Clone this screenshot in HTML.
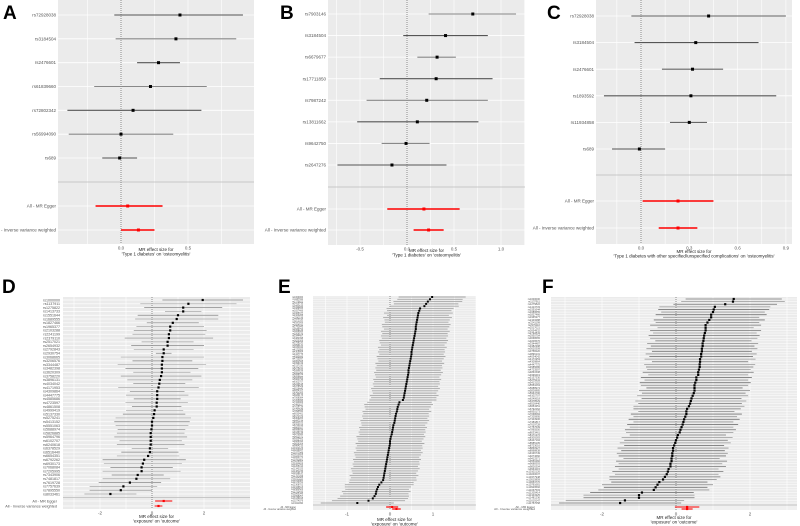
<!DOCTYPE html>
<html><head><meta charset="utf-8">
<style>
html,body{margin:0;padding:0;background:#fff;}
svg{display:block;font-family:"Liberation Sans",Arial,sans-serif;}
</style></head>
<body>
<svg id="fig" width="800" height="526" viewBox="0 0 800 526" xmlns="http://www.w3.org/2000/svg">
<text x="3" y="19" font-size="19" font-weight="bold">A</text>
<text x="280" y="19" font-size="19" font-weight="bold">B</text>
<text x="547" y="19" font-size="19" font-weight="bold">C</text>
<text x="2" y="293" font-size="19" font-weight="bold">D</text>
<text x="278" y="293" font-size="19" font-weight="bold">E</text>
<text x="542" y="293" font-size="19" font-weight="bold">F</text>
</svg>
<script>
// ---- Panel A data ----
const namesA = ["rs72928038","rs3184504","rs2476601","rs61839660","rs72802342","rs56994090","rs689"];
const estA = [0.44,0.41,0.28,0.22,0.09,0.0,-0.01];
const loA  = [-0.05,-0.04,0.12,-0.20,-0.40,-0.39,-0.14];
const hiA  = [0.91,0.86,0.44,0.64,0.60,0.39,0.12];
const sumEstA = [0.05,0.13];
const sumLoA = [-0.19,0.0];
const sumHiA = [0.31,0.25];
const ticksA = [0,0.5];
const tickLabA = ["0.0","0.5"];
// ---- Panel B data ----
const namesB = ["rs7903146","rs3184504","rs6679677","rs17711850","rs7987242","rs13811662","rs9642750","rs2647276"];
const estB = [0.70,0.41,0.32,0.31,0.21,0.11,-0.01,-0.16];
const loB  = [0.23,-0.04,0.11,-0.29,-0.43,-0.53,-0.27,-0.74];
const hiB  = [1.16,0.86,0.52,0.91,0.86,0.76,0.24,0.42];
const sumEstB = [0.18,0.23];
const sumLoB = [-0.21,0.07];
const sumHiB = [0.56,0.39];
const ticksB = [-0.5,0,0.5,1.0];
const tickLabB = ["-0.5","0.0","0.5","1.0"];
// ---- Panel C data ----
const namesC = ["rs72928038","rs3184504","rs2476601","rs1893592","rs11934858","rs689"];
const estC = [0.42,0.34,0.32,0.31,0.30,-0.01];
const loC  = [-0.06,-0.04,0.13,-0.23,0.18,-0.18];
const hiC  = [0.90,0.73,0.51,0.84,0.41,0.15];
const sumEstC = [0.23,0.23];
const sumLoC = [0.01,0.11];
const sumHiC = [0.45,0.35];
const ticksC = [0,0.3,0.6,0.9];
const tickLabC = ["0.0","0.3","0.6","0.9"];
// ---- Panel D data ----
const estD = [1.95,1.4,1.2,1.2,1.0,0.95,0.8,0.7,0.7,0.65,0.65,0.6,0.6,0.45,0.45,0.4,0.4,0.38,0.38,0.38,0.35,0.3,0.28,0.25,0.2,0.2,0.2,0.18,0.18,0.1,0.08,0.05,0.0,0.0,-0.02,-0.05,-0.05,-0.05,-0.05,-0.08,-0.08,-0.15,-0.3,-0.35,-0.4,-0.4,-0.55,-0.6,-0.85,-1.1,-1.2,-1.6];
const hwD  = [1.55,1.85,1.5,0.7,1.55,1.6,1.0,1.3,1.4,1.4,1.7,1.0,1.4,1.15,0.3,1.6,1.15,1.7,1.4,1.1,1.55,1.25,1.0,1.55,1.05,1.2,0.9,1.2,0.95,1.1,1.2,1.45,1.45,1.4,1.3,1.3,1.4,1.2,1.3,0.7,1.1,1.2,1.6,1.5,1.2,1.5,1.0,1.3,1.2,1.3,1.2,1.0];
const sumEstD = [0.45,0.25];
const sumHwD = [0.33,0.15];
const ticksD = [-2,0,2];
const tickLabD = ["-2","0","2"];
// ---- Panel E data ----
const estE = [0.98,0.93,0.88,0.84,0.8,0.7,0.68,0.66,0.65,0.64,0.63,0.62,0.61,0.6,0.6,0.59,0.58,0.57,0.56,0.55,0.54,0.53,0.52,0.51,0.5,0.5,0.49,0.48,0.47,0.46,0.45,0.44,0.43,0.43,0.42,0.41,0.4,0.39,0.38,0.37,0.36,0.35,0.34,0.33,0.32,0.3,0.22,0.2,0.18,0.17,0.16,0.14,0.13,0.12,0.11,0.1,0.08,0.07,0.06,0.05,0.04,0.02,0.01,0.0,0.0,-0.01,-0.02,-0.03,-0.04,-0.05,-0.06,-0.07,-0.08,-0.09,-0.1,-0.11,-0.12,-0.13,-0.14,-0.15,-0.16,-0.2,-0.25,-0.28,-0.3,-0.32,-0.33,-0.36,-0.4,-0.5,-0.76];
const hwE  = [0.78,0.76,0.8,0.75,0.8,0.78,0.75,0.8,0.72,0.8,0.76,0.74,0.8,0.78,0.74,0.8,0.76,0.78,0.75,0.8,0.78,0.74,0.8,0.76,0.78,0.75,0.8,0.77,0.74,0.8,0.76,0.78,0.75,0.8,0.77,0.74,0.79,0.76,0.78,0.75,0.8,0.77,0.74,0.8,0.76,0.78,0.75,0.8,0.77,0.74,0.8,0.76,0.78,0.75,0.8,0.77,0.74,0.79,0.76,0.78,0.75,0.8,0.77,0.74,0.8,0.76,0.78,0.75,0.8,0.77,0.74,0.79,0.76,0.78,0.75,0.8,0.77,0.74,0.8,0.76,0.78,0.75,0.8,0.77,0.74,0.8,0.76,0.8,0.82,0.85,0.85];
const sumEstE = [0.05,0.15];
const sumHwE = [0.14,0.1];
const ticksE = [-1,0,1];
const tickLabE = ["-1","0","1"];
// ---- Panel F data ----
const estF = [1.56,1.54,1.33,1.05,1.02,1.0,0.95,0.95,0.9,0.85,0.8,0.8,0.8,0.78,0.76,0.75,0.74,0.72,0.72,0.7,0.7,0.68,0.68,0.65,0.65,0.64,0.64,0.62,0.6,0.6,0.55,0.55,0.52,0.5,0.5,0.5,0.48,0.45,0.42,0.4,0.38,0.35,0.3,0.28,0.28,0.25,0.22,0.2,0.18,0.15,0.12,0.1,0.05,0.03,0.0,-0.02,-0.05,-0.08,-0.08,-0.1,-0.1,-0.12,-0.12,-0.15,-0.15,-0.2,-0.22,-0.25,-0.3,-0.35,-0.45,-0.5,-0.55,-0.6,-0.92,-1.0,-1.0,-1.38,-1.51];
const hwF  = [1.3,1.4,1.4,1.5,1.5,1.4,1.5,1.3,1.5,1.4,1.5,1.3,1.5,1.4,1.5,1.45,1.3,1.5,1.4,1.5,1.35,1.5,1.4,1.5,1.3,1.5,1.45,1.4,1.5,1.35,1.5,1.4,1.5,1.45,1.3,1.5,1.4,1.5,1.35,1.5,1.4,1.5,1.45,1.3,1.5,1.4,1.5,1.35,1.5,1.4,1.5,1.45,1.3,1.5,1.4,1.5,1.35,1.5,1.4,1.5,1.45,1.3,1.5,1.4,1.5,1.35,1.5,1.4,1.5,1.45,1.3,1.5,1.4,1.5,1.4,1.5,1.5,1.6,1.65];
const sumEstF = [0.3,0.3];
const sumHwF = [0.33,0.15];
const ticksF = [-2,0,2];
const tickLabF = ["-2","0","2"];

const NS = "http://www.w3.org/2000/svg";
const svg = document.getElementById("fig");
function mk(tag, attrs, parent){
  const e = document.createElementNS(NS, tag);
  for (const k in attrs) e.setAttribute(k, attrs[k]);
  (parent||svg).appendChild(e);
  return e;
}
function panel(p){
  const g = mk("g", {});
  
  
  const xs = v => p.zeroX + v * p.unit;
  const bg = mk("rect", {x:p.x0, y:p.y0, width:p.x1-p.x0, height:p.y1-p.y0, fill:"#ebebeb"}, g);
  
  
  const step = p.ticks.length>1 ? p.ticks[1]-p.ticks[0] : 1;
  for (let t = p.ticks[0] - step*3; t <= p.ticks[p.ticks.length-1] + step*3; t += step/2){
    const X = xs(t);
    if (X < p.x0 || X > p.x1) continue;
    const gl = mk("line", {x1:X, x2:X, y1:p.y0, y2:p.y1, stroke:"#fff", "stroke-width":0.6}, g);
    
    
  }
  const n = p.est.length;
  const rowY = i => n>1 ? p.rTop + i*(p.rBot-p.rTop)/(n-1) : p.rTop;
  const allY = [];
  for (let i=0;i<n;i++) allY.push(rowY(i));
  p.sumY.forEach(y=>allY.push(y));
  allY.forEach(y=>{
    const hl = mk("line", {x1:p.x0, x2:p.x1, y1:y, y2:y, stroke:"#fff", "stroke-width":p.gw}, g);
    
    
  });
  const sep = mk("line", {x1:p.x0, x2:p.x1, y1:p.sepY, y2:p.sepY, stroke:"#bbb", "stroke-width":0.8}, g);
  
  
  const zl = mk("line", {x1:xs(0), x2:xs(0), y1:p.y0, y2:p.y1, stroke:"#444", "stroke-width":0.6, "stroke-dasharray":"1,1"}, g);
  
  
  for (let i=0;i<n;i++){
    const y = rowY(i);
    const lo = p.lo ? p.lo[i] : p.est[i]-p.hw[i];
    const hi = p.hi ? p.hi[i] : p.est[i]+p.hw[i];
    const ln = mk("line", {x1:xs(lo), x2:xs(hi), y1:y, y2:y, stroke: i%2 ? p.c2 : p.c1, "stroke-width":p.lw}, g);
    
    
    const pt = mk("rect", {x:xs(p.est[i])-p.ps/2, y:y-p.ps/2, width:p.ps, height:p.ps, fill:"#000"}, g);
    
    
    const nm = p.names ? p.names[i] : ("rs" + (1000000 + i*137911));
    const lb = mk("text", {x:p.labX, y:y+p.fs*0.35, "font-size":p.fs, "text-anchor":"end", fill:"#555"}, g);
    lb.textContent = nm;
    
    
  }
  const sumNames = ["All - MR Egger","All - Inverse variance weighted"];
  for (let j=0;j<2;j++){
    const y = p.sumY[j];
    const lo = p.sumLo ? p.sumLo[j] : p.sumEst[j]-p.sumHw[j];
    const hi = p.sumHi ? p.sumHi[j] : p.sumEst[j]+p.sumHw[j];
    const ln = mk("line", {x1:xs(lo), x2:xs(hi), y1:y, y2:y, stroke:"#f00", "stroke-width":p.lw*1.3}, g);
    
    
    const pt = mk("rect", {x:xs(p.sumEst[j])-p.ps/2, y:y-p.ps/2, width:p.ps, height:p.ps, fill:"#f00"}, g);
    
    
    const lb = mk("text", {x:p.sumLabX, y:y+p.sfs*0.35, "font-size":p.sfs, "text-anchor":"end", fill:"#555"}, g);
    lb.textContent = sumNames[j];
    
    
  }
  p.ticks.forEach((t,k)=>{
    const tk = mk("text", {x:xs(t), y:p.y1+5.5, "font-size":4.5, "text-anchor":"middle", fill:"#555"}, g);
    tk.textContent = p.tickLab[k];
    
    
  });
  const cx = (p.x0+p.x1)/2;
  const t1 = mk("text", {x:cx, y:p.titleY, "font-size":4.5, "text-anchor":"middle", fill:"#222"}, g);
  t1.textContent = "MR effect size for";
  
  
  const t2 = mk("text", {x:cx, y:p.titleY+4.5, "font-size":4.5, "text-anchor":"middle", fill:"#222"}, g);
  t2.textContent = p.title;
  
  
}
const T1D = "'Type 1 diabetes' on 'osteomyelitis'";
panel({id:"a",x0:58,x1:254,y0:0,y1:244,zeroX:121,unit:134,names:namesA,est:estA,lo:loA,hi:hiA,sumEst:sumEstA,sumLo:sumLoA,sumHi:sumHiA,
  rTop:15,rBot:158,sepY:182,sumY:[206,230],ticks:ticksA,tickLab:tickLabA,labX:56,sumLabX:56,fs:4.5,sfs:4.5,ps:3,lw:1.1,gw:0.8,c1:"#555",c2:"#888",titleY:251,title:T1D});
panel({id:"b",x0:328,x1:525,y0:0,y1:245,zeroX:407,unit:94,names:namesB,est:estB,lo:loB,hi:hiB,sumEst:sumEstB,sumLo:sumLoB,sumHi:sumHiB,
  rTop:14,rBot:165,sepY:187,sumY:[209,230],ticks:ticksB,tickLab:tickLabB,labX:326,sumLabX:326,fs:4.5,sfs:4.5,ps:3,lw:1.1,gw:0.8,c1:"#888",c2:"#555",titleY:252,title:T1D});
panel({id:"c",x0:596,x1:792,y0:0,y1:244,zeroX:641,unit:161,names:namesC,est:estC,lo:loC,hi:hiC,sumEst:sumEstC,sumLo:sumLoC,sumHi:sumHiC,
  rTop:16,rBot:149,sepY:175,sumY:[201,228],ticks:ticksC,tickLab:tickLabC,labX:594,sumLabX:594,fs:4.5,sfs:4.5,ps:3,lw:1.1,gw:0.8,c1:"#666",c2:"#555",titleY:253,
  title:"'Type 1 diabetes with other specified/unspecified complications' on 'osteomyelitis'"});
panel({id:"d",x0:63,x1:250,y0:297,y1:509,zeroX:152,unit:26,est:estD,hw:hwD,sumEst:sumEstD,sumHw:sumHwD,
  rTop:300,rBot:494,sepY:497.5,sumY:[501,506],ticks:ticksD,tickLab:tickLabD,labX:60,sumLabX:57,fs:3.6,sfs:3.8,ps:2.2,lw:0.7,gw:0.7,c1:"#888",c2:"#aaa",titleY:518,title:"'exposure' on 'outcome'"});
panel({id:"e",x0:313,x1:476,y0:296,y1:510,zeroX:390,unit:43,est:estE,hw:hwE,sumEst:sumEstE,sumHw:sumHwE,
  rTop:297,rBot:503,sepY:505,sumY:[507,509],ticks:ticksE,tickLab:tickLabE,labX:303,sumLabX:296,fs:2.3,sfs:2.4,ps:2.0,lw:0.9,gw:0.4,c1:"#aaa",c2:"#aaa",titleY:521,title:"'exposure' on 'outcome'"});
panel({id:"f",x0:551,x1:797,y0:297,y1:510,zeroX:676,unit:37,est:estF,hw:hwF,sumEst:sumEstF,sumHw:sumHwF,
  rTop:299,rBot:503,sepY:505,sumY:[507,509],ticks:ticksF,tickLab:tickLabF,labX:540,sumLabX:535,fs:2.6,sfs:3,ps:2.2,lw:0.8,gw:0.5,c1:"#777",c2:"#999",titleY:519,title:"'exposure' on 'outcome'"});
</script>
</body></html>
